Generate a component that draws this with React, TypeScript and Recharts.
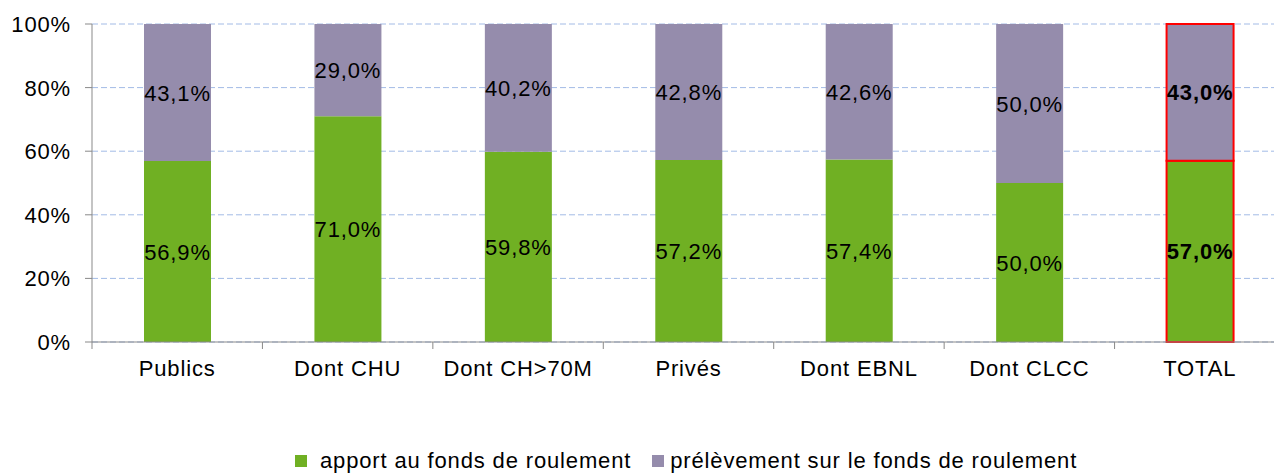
import { Bar, BarChart, CartesianGrid, Cell, LabelList, Legend, XAxis, YAxis } from 'recharts';

const categories = ['Publics', 'Dont CHU', 'Dont CH>70M', 'Privés', 'Dont EBNL', 'Dont CLCC', 'TOTAL'];
const apport = [56.9, 71.0, 59.8, 57.2, 57.4, 50.0, 57.0];
const prelevement = [43.1, 29.0, 40.2, 42.8, 42.6, 50.0, 43.0];
const yTicks = [0, 20, 40, 60, 80, 100];

const SERIES_NAMES = ['apport au fonds de roulement', 'prélèvement sur le fonds de roulement'];
const GREEN = '#70B023';
const PURPLE = '#958CAC';
const AXIS = '#898989';
const FONT = "'Liberation Sans', Arial, sans-serif";
const FS = 22;
const LS = 0.85;

const CHART_W = 1300;
const CHART_H = 474;
const Y_W = 92;
const MARGIN = { top: 24, right: 15, left: 0, bottom: 82 };
const PLOT_W = CHART_W - Y_W - MARGIN.left - MARGIN.right;
const TOTAL_INDEX = categories.length - 1;

const data = categories.map((name, i) => ({ name, apport: apport[i], prelevement: prelevement[i] }));

const fmt = (v: number) => `${v.toFixed(1).replace('.', ',')}%`;

function XTick({ x, y, payload }: any) {
  const band = PLOT_W / categories.length;
  return (
    <g>
      <line x1={x - band / 2} x2={x - band / 2} y1={y} y2={y + 7} stroke={AXIS} strokeWidth={1} />
      <text x={x} y={y + 34} textAnchor="middle" fontFamily={FONT} fontSize={FS} letterSpacing={LS} fill="#000">
        {payload.value}
      </text>
    </g>
  );
}

function YTick({ x, y, payload }: any) {
  return (
    <text x={x} y={y + 8} textAnchor="end" fontFamily={FONT} fontSize={FS} letterSpacing={LS} fill="#000">
      {`${payload.value}%`}
    </text>
  );
}

function SegmentLabel({ x, y, width, height, value, index }: any) {
  return (
    <text
      x={x + width / 2}
      y={y + height / 2 + 8}
      textAnchor="middle"
      fontFamily={FONT}
      fontSize={FS}
      letterSpacing={LS}
      fontWeight={index === TOTAL_INDEX ? 'bold' : 'normal'}
      fill="#000"
    >
      {fmt(value)}
    </text>
  );
}

function LegendContent() {
  const colors = [GREEN, PURPLE];
  return (
    <div style={{ display: 'flex', alignItems: 'center', fontFamily: FONT, fontSize: FS, letterSpacing: LS, lineHeight: `${FS}px`, color: '#000', whiteSpace: 'nowrap' }}>
      {SERIES_NAMES.map((n, i) => (
        <div key={n} style={{ display: 'flex', alignItems: 'center', marginRight: i === 0 ? 21 : 0 }}>
          <span style={{ display: 'inline-block', width: 12, height: 12, background: colors[i], marginRight: i === 0 ? 13 : 6 }} />
          <span>{n}</span>
        </div>
      ))}
    </div>
  );
}

export default function App() {
  return (
    <div style={{ position: 'fixed', left: 0, top: 0, width: 1274, height: 474, overflow: 'hidden', background: '#fff' }}>
      <BarChart width={CHART_W} height={CHART_H} data={data} margin={MARGIN}>
        <CartesianGrid vertical={false} stroke="#A3BBE6" strokeDasharray="6 3" />
        <XAxis
          dataKey="name"
          height={50}
          axisLine={{ stroke: AXIS }}
          tickLine={false}
          tickSize={0}
          tickMargin={0}
          interval={0}
          tick={<XTick />}
        />
        <YAxis
          width={Y_W}
          domain={[0, 100]}
          ticks={yTicks}
          axisLine={{ stroke: AXIS }}
          tickLine={{ stroke: AXIS }}
          tickSize={7}
          tickMargin={14}
          tick={<YTick />}
        />
        <Legend
          layout="horizontal"
          verticalAlign="middle"
          align="center"
          wrapperStyle={{ left: 295, top: 450, width: 'auto' }}
          content={<LegendContent />}
        />
        <Bar dataKey="apport" stackId="a" fill={GREEN} barSize={67} isAnimationActive={false}>
          {data.map((_, i) => (
            <Cell key={i} stroke={i === TOTAL_INDEX ? '#FF0000' : 'none'} strokeWidth={2} />
          ))}
          <LabelList dataKey="apport" content={<SegmentLabel />} />
        </Bar>
        <Bar dataKey="prelevement" stackId="a" fill={PURPLE} barSize={67} isAnimationActive={false}>
          {data.map((_, i) => (
            <Cell key={i} stroke={i === TOTAL_INDEX ? '#FF0000' : 'none'} strokeWidth={2} />
          ))}
          <LabelList dataKey="prelevement" content={<SegmentLabel />} />
        </Bar>
      </BarChart>
    </div>
  );
}
